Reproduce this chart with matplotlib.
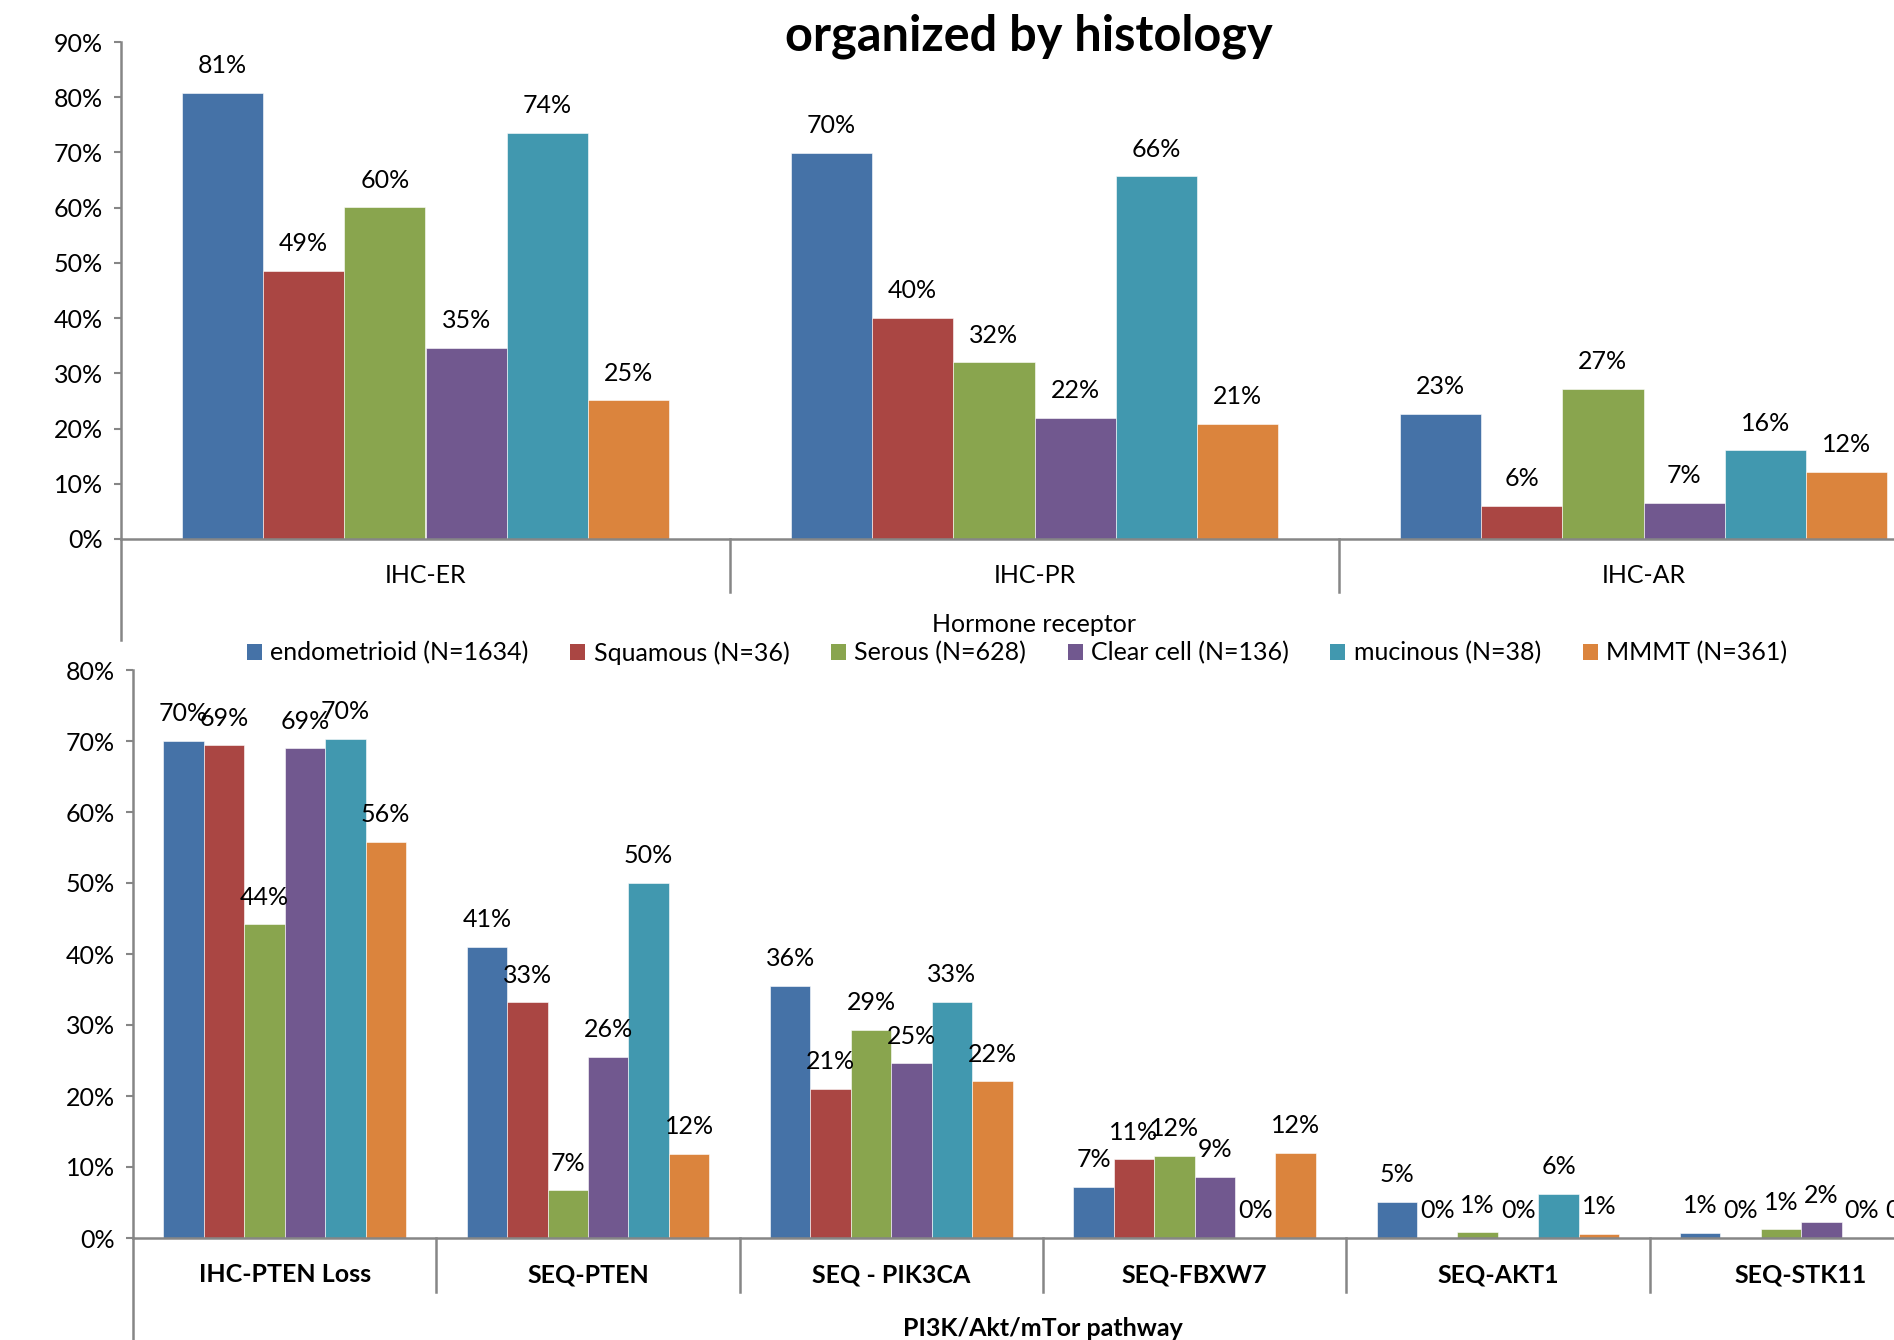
import matplotlib
matplotlib.use("Agg")
import matplotlib.pyplot as plt
import numpy as np
from matplotlib.lines import Line2D
from matplotlib.patches import Patch

plt.rcParams['font.family'] = ['Lato', 'DejaVu Sans']

series = ["endometrioid (N=1634)", "Squamous (N=36)", "Serous (N=628)",
          "Clear cell (N=136)", "mucinous (N=38)", "MMMT (N=361)"]
colors = ["#4572A7", "#AA4643", "#89A54E", "#71588F", "#4198AF", "#DB843D"]

hormone_cats = ["IHC-ER", "IHC-PR", "IHC-AR"]
hormone_vals = {
    "endometrioid (N=1634)": [80.8, 69.9, 22.7],
    "Squamous (N=36)":       [48.6, 40.1, 6.0],
    "Serous (N=628)":        [60.1, 32.0, 27.2],
    "Clear cell (N=136)":    [34.6, 22.0, 6.6],
    "mucinous (N=38)":       [73.6, 65.7, 16.1],
    "MMMT (N=361)":          [25.1, 20.9, 12.2],
}

pathway_cats = ["IHC-PTEN Loss", "SEQ-PTEN", "SEQ - PIK3CA", "SEQ-FBXW7", "SEQ-AKT1", "SEQ-STK11"]
pathway_vals = {
    "endometrioid (N=1634)": [70.0, 41.0, 35.5, 7.2, 5.1, 0.7],
    "Squamous (N=36)":       [69.4, 33.2, 21.0, 11.1, 0.0, 0.0],
    "Serous (N=628)":        [44.2, 6.7, 29.3, 11.6, 0.8, 1.2],
    "Clear cell (N=136)":    [69.0, 25.5, 24.6, 8.6, 0.0, 2.2],
    "mucinous (N=38)":       [70.3, 50.0, 33.3, 0.0, 6.2, 0.0],
    "MMMT (N=361)":          [55.8, 11.9, 22.1, 12.0, 0.6, 0.0],
}

W, H = 1894, 1340
fig = plt.figure(figsize=(W / 100, H / 100), dpi=100)

GRAY = "#868686"
FS = 18

def fx(px):
    return px / W

def fy(px):
    return 1 - px / H

def draw(ax, cats, vals, ymax, bold_cats, xlabel, sep_len_px, ax_h_px, spine_ext):
    n = len(series)
    bw = 0.8 / n
    x = np.arange(len(cats))
    for i, s in enumerate(series):
        pos = x - 0.4 + bw * (i + 0.5)
        v = np.array(vals[s]) / 100.0
        ax.bar(pos, v, bw, color=colors[i], edgecolor="white", linewidth=0.4, label=s, zorder=2)
        for p, val in zip(pos, vals[s]):
            ax.annotate(f"{int(round(val))}%", (p, val / 100.0), xytext=(0, 19.5),
                        textcoords="offset points", ha="center", va="center",
                        fontsize=FS, clip_on=False)
    ax.set_xlim(-0.5, len(cats) - 0.5)
    ax.set_ylim(0, ymax / 100)
    ax.set_yticks(np.arange(0, ymax + 1, 10) / 100)
    ax.set_yticklabels([f"{t}%" for t in range(0, ymax + 1, 10)], fontsize=FS)
    ax.set_xticks(x)
    ax.set_xticklabels(cats, fontsize=FS, fontweight="bold" if bold_cats else "normal")
    ax.tick_params(axis="x", length=0, pad=18)
    ax.tick_params(axis="y", direction="out", length=5, width=1.5, color=GRAY, pad=8)
    for sp in ["top", "right"]:
        ax.spines[sp].set_visible(False)
    for sp in ["left", "bottom"]:
        ax.spines[sp].set_color(GRAY)
        ax.spines[sp].set_linewidth(1.8)
    trans = ax.get_xaxis_transform()
    frac = sep_len_px / ax_h_px
    for b in np.arange(0.5, len(cats) - 0.5, 1.0):
        ax.add_line(Line2D([b, b], [0, -frac], transform=trans, color=GRAY, lw=1.8, clip_on=False))
    ax.add_line(Line2D([0, 0], [0, -spine_ext / ax_h_px], transform=ax.transAxes,
                       color=GRAY, lw=1.8, clip_on=False))
    ax.set_xlabel(xlabel, fontsize=FS, fontweight="bold" if bold_cats else "normal")

# top axes
top_h = 539 - 42
ax1 = fig.add_axes([fx(121), fy(539), fx(3 * 609), top_h / H])
draw(ax1, hormone_cats, hormone_vals, 90, False, "Hormone receptor", 53, top_h, 101)
ax1.xaxis.set_label_coords(0.5, -(625 - 539) / top_h, transform=ax1.transAxes)
ax1.xaxis.label.set_va("center")

# bottom axes
bot_h = 1238 - 670
ax2 = fig.add_axes([fx(133), fy(1238), fx(6 * 303.3), bot_h / H])
draw(ax2, pathway_cats, pathway_vals, 80, True, "PI3K/Akt/mTor pathway", 54, bot_h, 120)
ax2.xaxis.set_label_coords(0.5, -(1328 - 1238) / bot_h, transform=ax2.transAxes)
ax2.xaxis.label.set_va("center")

handles = [Patch(facecolor=c, edgecolor="none") for c in colors]
fig.legend(handles, series, loc="center", bbox_to_anchor=(fx(1017), fy(653)), ncol=6,
           frameon=False, fontsize=FS, handlelength=0.6, handleheight=0.6,
           handletextpad=0.35, columnspacing=1.65)

fig.text(fx(1029), fy(36), "organized by histology", ha="center", va="center",
         fontsize=35, fontweight="bold")

fig.savefig("out.png", dpi=100)
